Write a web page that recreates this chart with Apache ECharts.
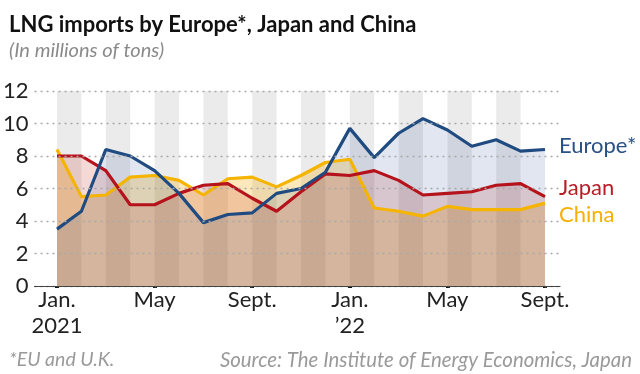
<!DOCTYPE html>
<html>
<head>
<meta charset="utf-8">
<script src="https://cdn.jsdelivr.net/npm/echarts@6/dist/echarts.min.js"></script>
<style>html,body{margin:0;padding:0;background:#fff;}#c{width:640px;height:374px;}</style>
</head>
<body>
<div id="c"></div>
<script>
const months = ['Jan.\n2021','Feb.','Mar.','Apr.','May','Jun.','Jul.','Aug.','Sept.','Oct.','Nov.','Dec.',
  'Jan.\n\u201922','Feb.','Mar.','Apr.','May','Jun.','Jul.','Aug.','Sept.'];
const europe = [3.5,4.6,8.4,8.0,7.1,5.7,3.9,4.4,4.5,5.7,6.0,7.0,9.7,7.9,9.4,10.3,9.6,8.6,9.0,8.3,8.4];
const japan  = [8.0,8.0,7.1,5.0,5.0,5.7,6.2,6.3,5.4,4.6,5.8,6.9,6.8,7.1,6.5,5.6,5.7,5.8,6.2,6.3,5.5];
const china  = [8.4,5.5,5.6,6.7,6.8,6.5,5.6,6.6,6.7,6.1,6.8,7.6,7.8,4.8,4.6,4.3,4.9,4.7,4.7,4.7,5.1];

const FONT = 'Lato';
const chart = echarts.init(document.getElementById('c'), null, {renderer:'canvas'});

function mkSeries(name, data, color, fill, labelColor, off) {
  return {
    name: name, type: 'line', data: data, xAxisIndex: 1, yAxisIndex: 1,
    symbol: 'none', smooth: false,
    lineStyle: {color: color, width: 3.2},
    areaStyle: {color: fill},
    endLabel: {show: true, formatter: name, color: labelColor, fontFamily: FONT,
      fontSize: 22, distance: 14, offset: off},
    emphasis: {disabled: true}, silent: true
  };
}

chart.setOption({
  animation: false,
  title: [
    {text: 'LNG imports by Europe*, Japan and China', left: 4, top: 9,
     textStyle: {fontFamily: FONT, fontWeight: 'bold', fontSize: 22, color: '#111'},
     subtext: '(In millions of tons)', itemGap: 5,
     subtextStyle: {fontFamily: FONT, fontStyle: 'italic', fontSize: 20, color: '#8a8a8a'}},
    {text: '*EU and U.K.', left: 4, top: 345,
     textStyle: {fontFamily: FONT, fontStyle: 'italic', fontWeight: 'normal', fontSize: 19.5, color: '#9a9a9a'}},
    {text: 'Source: The Institute of Energy Economics, Japan', right: 3, top: 345,
     textStyle: {fontFamily: FONT, fontStyle: 'italic', fontWeight: 'normal', fontSize: 20.4, color: '#9a9a9a'}}
  ],
  grid: [
    {left: 34, right: 80, top: 91, bottom: 88},
    {left: 57, right: 95, top: 91, bottom: 88}
  ],
  xAxis: [
    {type: 'value', gridIndex: 0, min: 0, max: 1, z: 10,
     axisLine: {show: true, lineStyle: {color: '#444', width: 1.2}},
     axisTick: {show: false}, axisLabel: {show: false}, splitLine: {show: false}},
    {type: 'category', gridIndex: 1, data: months, boundaryGap: false, z: 0,
     axisLine: {show: false},
     axisTick: {show: true, interval: 3, length: 2, inside: false, lineStyle: {color: '#111', width: 4}},
     axisLabel: {interval: 3, fontFamily: FONT, fontSize: 22, color: '#222', lineHeight: 26, margin: 1},
     splitLine: {show: false},
     splitArea: {show: true, interval: 0, areaStyle: {color: ['#ebebeb', 'rgba(255,255,255,0)']}}}
  ],
  yAxis: [
    {type: 'value', gridIndex: 0, min: 0, max: 12, interval: 2, z: 10,
     axisLine: {show: false}, axisTick: {show: false},
     axisLabel: {fontFamily: FONT, fontSize: 22, color: '#222', margin: 6},
     splitLine: {show: true, lineStyle: {color: '#a8a8a8', type: [2, 4], width: 1.3}}},
    {type: 'value', gridIndex: 1, min: 0, max: 12, interval: 2, show: false,
     splitLine: {show: false}}
  ],
  series: [
    mkSeries('China', china, '#f5b400', 'rgba(245,170,0,0.38)', '#f5b000', [0, 12]),
    mkSeries('Japan', japan, '#b5121b', 'rgba(190,40,30,0.25)', '#b81c25', [0, -9]),
    mkSeries('Europe*', europe, '#1f4b80', 'rgba(40,80,150,0.20)', '#2a5088', [0, -4])
  ]
});
</script>
</body>
</html>
